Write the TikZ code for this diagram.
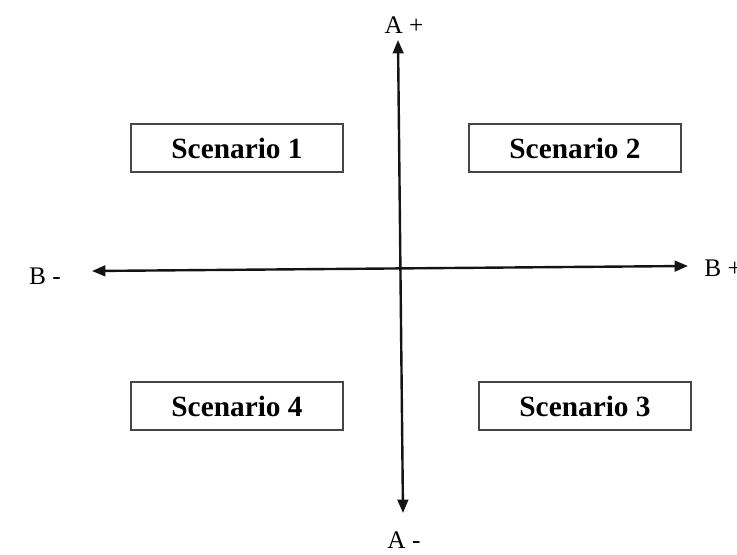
\documentclass[tikz,border=0pt]{standalone}
\usepackage{fontspec}
\setmainfont{Liberation Serif}
\usetikzlibrary{positioning,arrows.meta,calc}
\definecolor{boxline}{RGB}{70,70,70}
\definecolor{axisline}{RGB}{20,20,20}
\begin{document}
\begin{tikzpicture}[x=0.75pt,y=-0.75pt,scenario/.style={draw=boxline,line width=1.3pt,minimum width=159pt,minimum height=36pt,inner sep=0pt,font=\fontsize{22}{26}\selectfont\bfseries},axislabel/.style={inner sep=0pt,font=\fontsize{19}{23}\selectfont},arr/.style={{Triangle[length=10pt,width=8pt]}-{Triangle[length=10pt,width=8pt]},line width=1.8pt,draw=axisline}]
\useasboundingbox (0,0) rectangle (737,555);
\coordinate (atop) at (398,40);\coordinate (abot) at (403,513);
\coordinate (bleft) at (92,271);\coordinate (bright) at (688,266);
\node[scenario] (s1) at (237,148) {Scenario 1};
\node[scenario] (s2) at (575,148) {Scenario 2};
\node[scenario] (s4) at (237,406) {Scenario 4};
\node[scenario] (s3) at (585,406) {Scenario 3};
\node[axislabel] (ap) at (404,25) {A +};
\node[axislabel] (am) at (404,540) {A -};
\node[axislabel] (bm) at (45,276) {B -};
\node[axislabel,anchor=west] (bp) at (704,268) {B +};
\draw[arr](atop)--(abot);\draw[arr](bleft)--(bright);
\end{tikzpicture}
\end{document}
